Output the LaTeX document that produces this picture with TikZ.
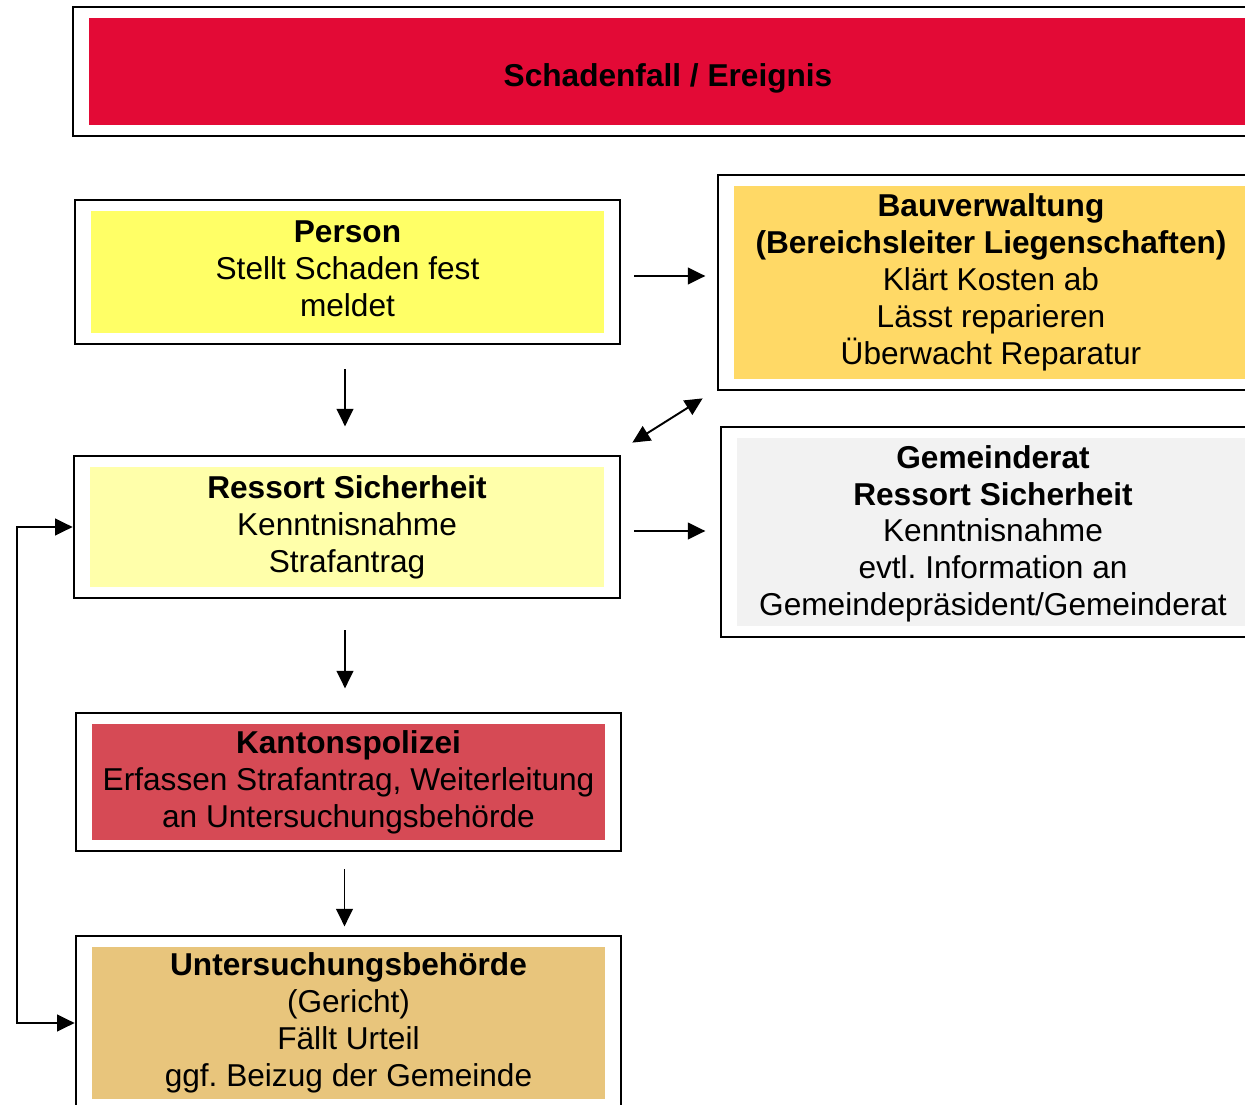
\documentclass[tikz,border=0pt]{standalone}
\usepackage{fontspec}
\setmainfont{Liberation Sans}
\usetikzlibrary{arrows.meta,fit,calc}
\frenchspacing

\definecolor{schadenred}{RGB}{227,10,54}
\definecolor{personyellow}{RGB}{255,255,102}
\definecolor{ressortyellow}{RGB}{255,255,170}
\definecolor{polizeired}{RGB}{214,74,85}
\definecolor{gerichtbrown}{RGB}{232,197,124}
\definecolor{bauorange}{RGB}{255,217,102}
\definecolor{ratgrey}{RGB}{242,242,242}

% move a line of text without changing its box
\newcommand\liftline[2]{\raisebox{#1}[\height][\depth]{#2}}

\begin{document}
\begin{tikzpicture}[x=0.02cm,y=-0.02cm]

\tikzstyle{inbox} = [rectangle,inner sep=0pt,align=center,font=\fontsize{18}{21}\selectfont]%
\tikzstyle{outbox} = [rectangle,draw=black,line width=1.2pt,inner xsep=0.32cm,inner ysep=0.22cm]%
\tikzstyle{arc} = [-{Triangle[length=10pt,width=9.5pt]},line width=1.1pt]%
\tikzstyle{biarc} = [{Triangle[length=10pt,width=9.5pt]}-{Triangle[length=10pt,width=9.5pt]},line width=1.1pt]%

\useasboundingbox (0,0) rectangle (1245,1105);
\clip (0,0) rectangle (1245,1105);

% top banner
\node[inbox,fill=schadenred,minimum width=23.16cm,minimum height=2.14cm] (eventin) at (668, 71.5)
    {\liftline{-3.8pt}{\textbf{Schadenfall / Ereignis}}};
\node[outbox,fit=(eventin)] (event) {};

% left column
\node[inbox,fill=personyellow,minimum width=10.26cm,minimum height=2.44cm] (personin) at (347.5, 272)
    {\liftline{2pt}{\textbf{Person}}\\\liftline{2pt}{Stellt Schaden fest}\\\liftline{2pt}{meldet}};
\node[outbox,fit=(personin)] (person) {};

\node[inbox,fill=ressortyellow,minimum width=10.28cm,minimum height=2.4cm] (ressortin) at (347, 527)
    {\textbf{Ressort Sicherheit}\\Kenntnisnahme\\Strafantrag};
\node[outbox,fit=(ressortin)] (ressort) {};

\node[inbox,fill=polizeired,minimum width=10.26cm,minimum height=2.32cm] (kantonin) at (348.5, 782)
    {\textbf{Kantonspolizei}\\Erfassen Strafantrag, Weiterleitung\\an Untersuchungsbehörde};
\node[outbox,fit=(kantonin)] (kanton) {};

\node[inbox,fill=gerichtbrown,minimum width=10.26cm,minimum height=3.04cm] (gerichtin) at (348.5, 1023)
    {\textbf{Untersuchungsbehörde}\\(Gericht)\\Fällt Urteil\\ggf. Beizug der Gemeinde};
\node[outbox,fit=(gerichtin)] (gericht) {};

% right column
\node[inbox,fill=bauorange,minimum width=10.28cm,minimum height=3.86cm] (bauin) at (991, 282.5)
    {\textbf{Bauverwaltung}\\\textbf{(Bereichsleiter Liegenschaften)}\\Klärt Kosten ab\\Lässt reparieren\\Überwacht Reparatur};
\node[outbox,fit=(bauin)] (bau) {};

\node[inbox,fill=ratgrey,minimum width=10.24cm,minimum height=3.76cm] (ratin) at (993, 532)
    {\liftline{-1pt}{\textbf{Gemeinderat}}\\\liftline{-1pt}{\textbf{Ressort Sicherheit}}\\\liftline{-1pt}{Kenntnisnahme}\\\liftline{-1pt}{evtl. Information an}\\\liftline{-1pt}{Gemeindepräsident/Gemeinderat}};
\node[outbox,fit=(ratin)] (rat) {};

% connectors
\draw[arc] (person.east) ++(13,4) -- ++(71,0);
\draw[arc] (person.south) ++(-2.5,24) -- ++(0,57);
\draw[biarc] (ressort.north east) ++(11,-12) -- ($(bau.south west)+(-14,7)$);
\draw[arc] (ressort.east) ++(13,4) -- ++(71,0);
\draw[arc] (ressort.south) ++(-2,31) -- ++(0,58);
\draw[arc] (kanton.south) ++(-4,17) -- ++(0,57);
\draw[biarc] (ressort.west) -- ++(-56,0) |- (gericht.west);

\end{tikzpicture}
\end{document}
